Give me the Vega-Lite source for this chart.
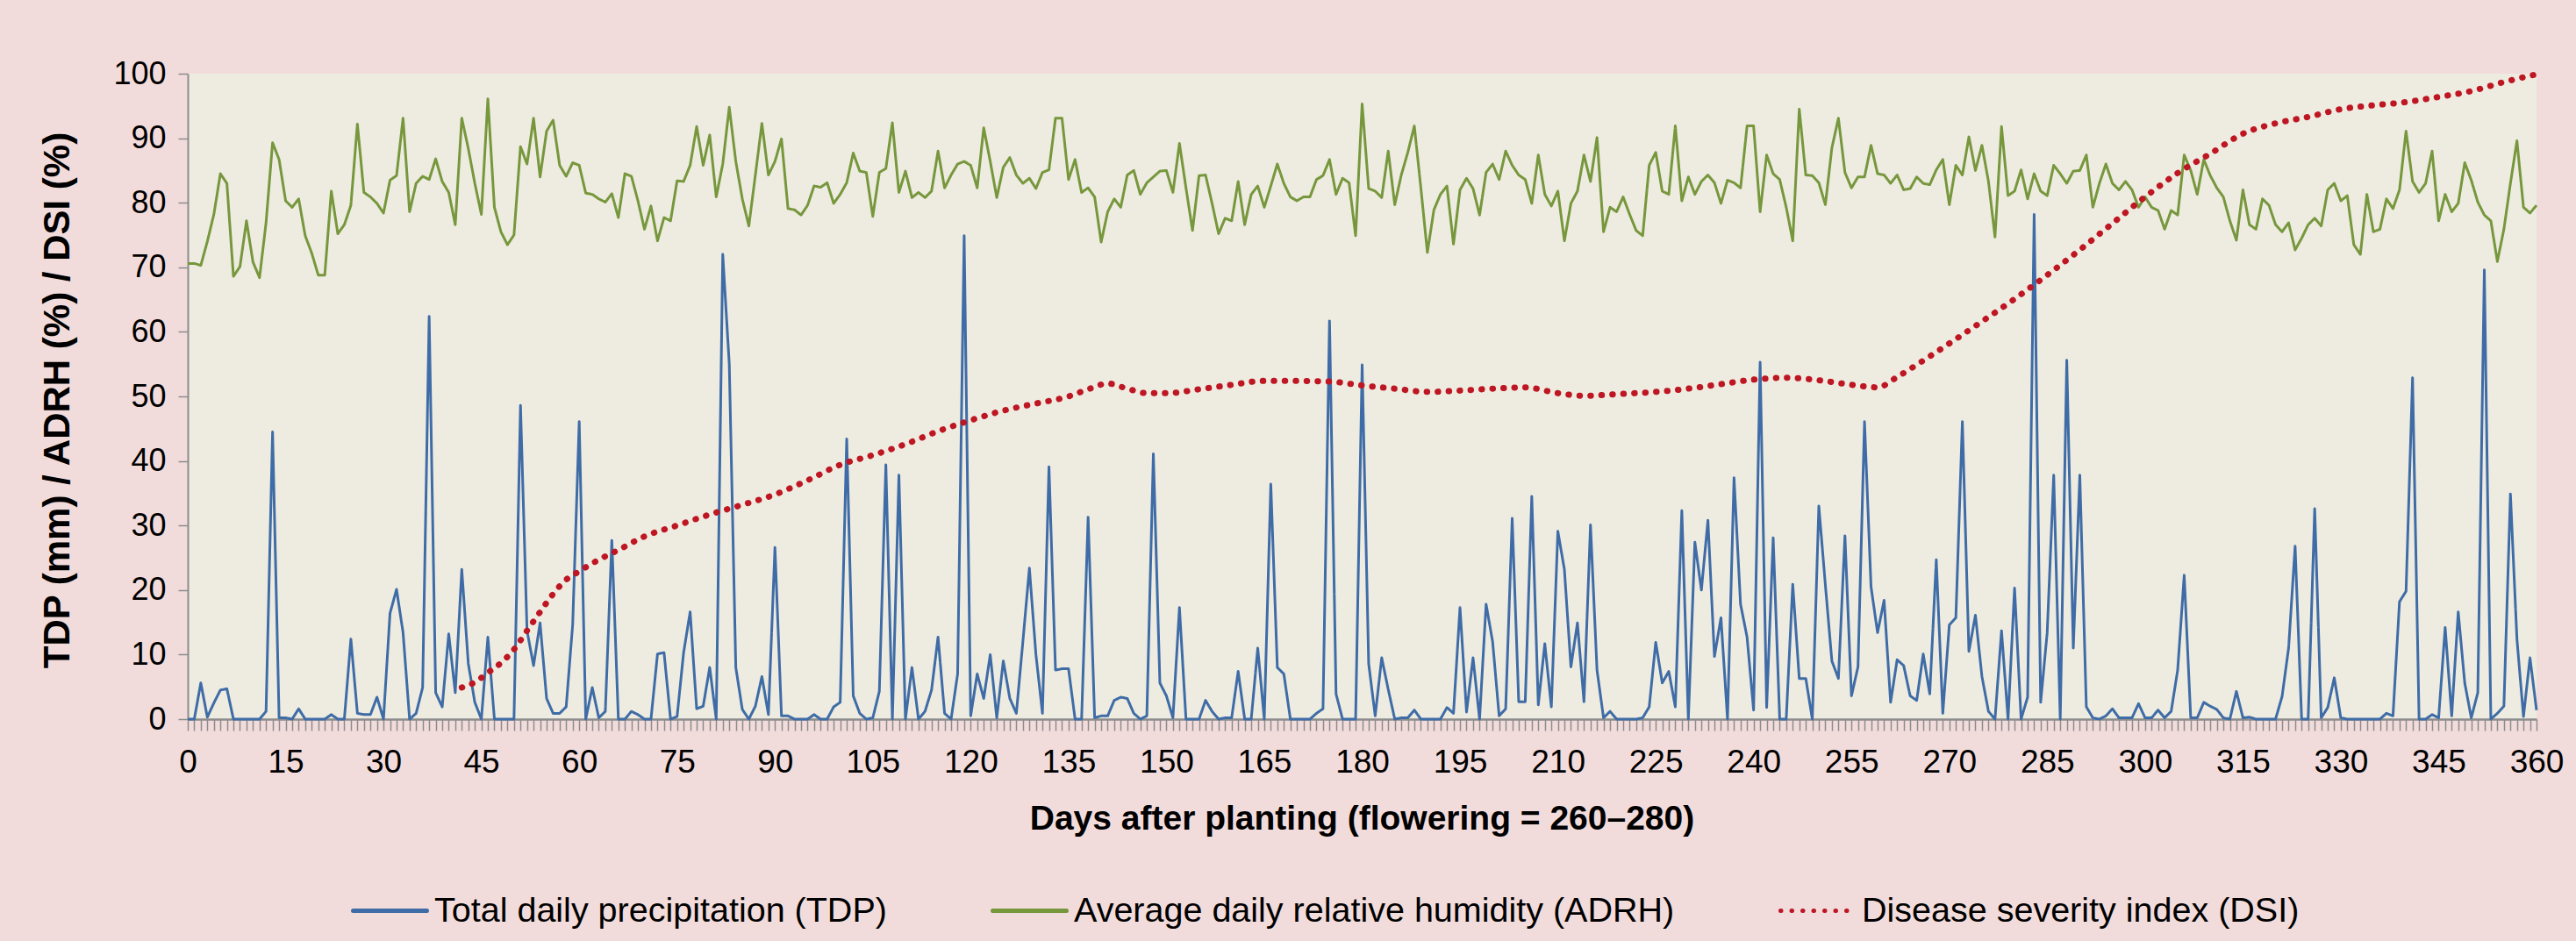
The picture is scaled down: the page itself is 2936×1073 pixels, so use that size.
{
"$schema": "https://vega.github.io/schema/vega-lite/v6.json",
"width": 2677,
"height": 736,
"autosize": {"type": "none"},
"padding": {"left": 214, "top": 84, "right": 45, "bottom": 253},
"background": "#F2DCDB",
"config": {"view": {"fill": "#EEECE1", "stroke": null}, "font": "Liberation Sans"},
"datasets": {
"daily": [
{"day":0,"TDP":0,"ADRH":70.6},{"day":1,"TDP":0,"ADRH":70.6},{"day":2,"TDP":5.6,"ADRH":70.3},{"day":3,"TDP":0.3,"ADRH":74.0},{"day":4,"TDP":2.5,"ADRH":78.2},{"day":5,"TDP":4.5,"ADRH":84.5},{"day":6,"TDP":4.7,"ADRH":83.0},{"day":7,"TDP":0,"ADRH":68.6},{"day":8,"TDP":0,"ADRH":70.1},{"day":9,"TDP":0,"ADRH":77.2},
{"day":10,"TDP":0,"ADRH":70.8},{"day":11,"TDP":0,"ADRH":68.4},{"day":12,"TDP":1.2,"ADRH":76.9},{"day":13,"TDP":44.5,"ADRH":89.3},{"day":14,"TDP":0.2,"ADRH":86.7},{"day":15,"TDP":0.2,"ADRH":80.3},{"day":16,"TDP":0,"ADRH":79.3},{"day":17,"TDP":1.6,"ADRH":80.6},{"day":18,"TDP":0,"ADRH":74.9},{"day":19,"TDP":0,"ADRH":72.2},
{"day":20,"TDP":0,"ADRH":68.8},{"day":21,"TDP":0,"ADRH":68.8},{"day":22,"TDP":0.7,"ADRH":81.8},{"day":23,"TDP":0,"ADRH":75.2},{"day":24,"TDP":0,"ADRH":76.6},{"day":25,"TDP":12.4,"ADRH":79.6},{"day":26,"TDP":0.9,"ADRH":92.2},{"day":27,"TDP":0.7,"ADRH":81.6},{"day":28,"TDP":0.7,"ADRH":80.9},{"day":29,"TDP":3.4,"ADRH":79.9},
{"day":30,"TDP":0,"ADRH":78.4},{"day":31,"TDP":16.4,"ADRH":83.5},{"day":32,"TDP":20.1,"ADRH":84.2},{"day":33,"TDP":13.4,"ADRH":93.1},{"day":34,"TDP":0,"ADRH":78.6},{"day":35,"TDP":0.9,"ADRH":83.0},{"day":36,"TDP":4.9,"ADRH":84.1},{"day":37,"TDP":62.4,"ADRH":83.6},{"day":38,"TDP":4.1,"ADRH":86.8},{"day":39,"TDP":1.9,"ADRH":83.3},
{"day":40,"TDP":13.2,"ADRH":81.6},{"day":41,"TDP":4.1,"ADRH":76.6},{"day":42,"TDP":23.2,"ADRH":93.1},{"day":43,"TDP":8.6,"ADRH":88.4},{"day":44,"TDP":2.6,"ADRH":83.0},{"day":45,"TDP":0,"ADRH":78.2},{"day":46,"TDP":12.7,"ADRH":96.1},{"day":47,"TDP":0,"ADRH":79.3},{"day":48,"TDP":0,"ADRH":75.5},{"day":49,"TDP":0,"ADRH":73.5},
{"day":50,"TDP":0,"ADRH":75.0},{"day":51,"TDP":48.6,"ADRH":88.7},{"day":52,"TDP":13.7,"ADRH":86.0},{"day":53,"TDP":8.3,"ADRH":93.1},{"day":54,"TDP":14.9,"ADRH":84.0},{"day":55,"TDP":3.2,"ADRH":91.1},{"day":56,"TDP":0.9,"ADRH":92.8},{"day":57,"TDP":0.9,"ADRH":85.8},{"day":58,"TDP":1.9,"ADRH":84.1},{"day":59,"TDP":14.7,"ADRH":86.2},
{"day":60,"TDP":46.1,"ADRH":85.8},{"day":61,"TDP":0,"ADRH":81.5},{"day":62,"TDP":4.9,"ADRH":81.3},{"day":63,"TDP":0.2,"ADRH":80.6},{"day":64,"TDP":1.2,"ADRH":80.1},{"day":65,"TDP":27.7,"ADRH":81.4},{"day":66,"TDP":0,"ADRH":77.7},{"day":67,"TDP":0,"ADRH":84.5},{"day":68,"TDP":1.2,"ADRH":84.1},{"day":69,"TDP":0.7,"ADRH":80.3},
{"day":70,"TDP":0,"ADRH":75.9},{"day":71,"TDP":0,"ADRH":79.5},{"day":72,"TDP":10.1,"ADRH":74.1},{"day":73,"TDP":10.3,"ADRH":77.7},{"day":74,"TDP":0,"ADRH":77.2},{"day":75,"TDP":0.4,"ADRH":83.4},{"day":76,"TDP":10.3,"ADRH":83.3},{"day":77,"TDP":16.6,"ADRH":85.8},{"day":78,"TDP":1.6,"ADRH":91.8},{"day":79,"TDP":2.0,"ADRH":85.8},
{"day":80,"TDP":8.0,"ADRH":90.5},{"day":81,"TDP":0,"ADRH":80.9},{"day":82,"TDP":72.0,"ADRH":86.0},{"day":83,"TDP":55.0,"ADRH":94.8},{"day":84,"TDP":8.0,"ADRH":86.4},{"day":85,"TDP":1.5,"ADRH":80.6},{"day":86,"TDP":0,"ADRH":76.4},{"day":87,"TDP":2.0,"ADRH":84.3},{"day":88,"TDP":6.6,"ADRH":92.3},{"day":89,"TDP":0.7,"ADRH":84.3},
{"day":90,"TDP":26.6,"ADRH":86.4},{"day":91,"TDP":0.5,"ADRH":89.9},{"day":92,"TDP":0.5,"ADRH":79.1},{"day":93,"TDP":0,"ADRH":78.9},{"day":94,"TDP":0,"ADRH":78.1},{"day":95,"TDP":0,"ADRH":79.6},{"day":96,"TDP":0.7,"ADRH":82.6},{"day":97,"TDP":0,"ADRH":82.4},{"day":98,"TDP":0,"ADRH":83.1},{"day":99,"TDP":1.9,"ADRH":79.9},
{"day":100,"TDP":2.6,"ADRH":81.3},{"day":101,"TDP":43.4,"ADRH":83.1},{"day":102,"TDP":3.6,"ADRH":87.7},{"day":103,"TDP":0.9,"ADRH":84.9},{"day":104,"TDP":0,"ADRH":84.7},{"day":105,"TDP":0.2,"ADRH":77.9},{"day":106,"TDP":4.3,"ADRH":84.7},{"day":107,"TDP":39.4,"ADRH":85.3},{"day":108,"TDP":0,"ADRH":92.4},{"day":109,"TDP":37.8,"ADRH":81.6},
{"day":110,"TDP":0,"ADRH":84.9},{"day":111,"TDP":8.0,"ADRH":80.8},{"day":112,"TDP":0,"ADRH":81.6},{"day":113,"TDP":1.2,"ADRH":80.8},{"day":114,"TDP":4.5,"ADRH":81.8},{"day":115,"TDP":12.7,"ADRH":88.0},{"day":116,"TDP":0.9,"ADRH":82.3},{"day":117,"TDP":0,"ADRH":84.3},{"day":118,"TDP":7.0,"ADRH":86.0},{"day":119,"TDP":74.9,"ADRH":86.4},
{"day":120,"TDP":0.5,"ADRH":85.8},{"day":121,"TDP":7.0,"ADRH":82.3},{"day":122,"TDP":3.2,"ADRH":91.6},{"day":123,"TDP":10.0,"ADRH":86.4},{"day":124,"TDP":0.2,"ADRH":80.8},{"day":125,"TDP":9.0,"ADRH":85.5},{"day":126,"TDP":3.2,"ADRH":87.0},{"day":127,"TDP":0.9,"ADRH":84.3},{"day":128,"TDP":12.0,"ADRH":83.0},{"day":129,"TDP":23.4,"ADRH":83.8},
{"day":130,"TDP":10.0,"ADRH":82.2},{"day":131,"TDP":0.9,"ADRH":84.7},{"day":132,"TDP":39.1,"ADRH":85.1},{"day":133,"TDP":7.6,"ADRH":93.1},{"day":134,"TDP":7.8,"ADRH":93.1},{"day":135,"TDP":7.8,"ADRH":83.6},{"day":136,"TDP":0,"ADRH":86.7},{"day":137,"TDP":0,"ADRH":81.6},{"day":138,"TDP":31.3,"ADRH":82.3},{"day":139,"TDP":0.2,"ADRH":80.9},
{"day":140,"TDP":0.5,"ADRH":73.9},{"day":141,"TDP":0.5,"ADRH":78.6},{"day":142,"TDP":2.9,"ADRH":80.6},{"day":143,"TDP":3.4,"ADRH":79.3},{"day":144,"TDP":3.2,"ADRH":84.3},{"day":145,"TDP":0.9,"ADRH":85.0},{"day":146,"TDP":0,"ADRH":81.3},{"day":147,"TDP":0.5,"ADRH":83.1},{"day":148,"TDP":41.1,"ADRH":84.0},{"day":149,"TDP":5.6,"ADRH":84.9},
{"day":150,"TDP":3.6,"ADRH":85.0},{"day":151,"TDP":0.2,"ADRH":81.6},{"day":152,"TDP":17.3,"ADRH":89.2},{"day":153,"TDP":0,"ADRH":82.3},{"day":154,"TDP":0,"ADRH":75.7},{"day":155,"TDP":0,"ADRH":84.2},{"day":156,"TDP":2.9,"ADRH":84.3},{"day":157,"TDP":1.2,"ADRH":79.9},{"day":158,"TDP":0,"ADRH":75.2},{"day":159,"TDP":0.2,"ADRH":77.6},
{"day":160,"TDP":0.2,"ADRH":77.2},{"day":161,"TDP":7.4,"ADRH":83.3},{"day":162,"TDP":0,"ADRH":76.6},{"day":163,"TDP":0,"ADRH":81.3},{"day":164,"TDP":11.0,"ADRH":82.6},{"day":165,"TDP":0,"ADRH":79.3},{"day":166,"TDP":36.4,"ADRH":82.6},{"day":167,"TDP":8.0,"ADRH":86.0},{"day":168,"TDP":7.0,"ADRH":83.0},{"day":169,"TDP":0,"ADRH":80.9},
{"day":170,"TDP":0,"ADRH":80.3},{"day":171,"TDP":0,"ADRH":80.9},{"day":172,"TDP":0,"ADRH":80.9},{"day":173,"TDP":0.9,"ADRH":83.6},{"day":174,"TDP":1.6,"ADRH":84.2},{"day":175,"TDP":61.7,"ADRH":86.7},{"day":176,"TDP":3.9,"ADRH":81.3},{"day":177,"TDP":0,"ADRH":83.8},{"day":178,"TDP":0,"ADRH":83.1},{"day":179,"TDP":0,"ADRH":74.9},
{"day":180,"TDP":54.9,"ADRH":95.3},{"day":181,"TDP":8.6,"ADRH":82.2},{"day":182,"TDP":0.5,"ADRH":81.8},{"day":183,"TDP":9.5,"ADRH":80.8},{"day":184,"TDP":4.6,"ADRH":88.0},{"day":185,"TDP":0,"ADRH":79.7},{"day":186,"TDP":0.2,"ADRH":84.3},{"day":187,"TDP":0.2,"ADRH":87.8},{"day":188,"TDP":1.4,"ADRH":91.9},{"day":189,"TDP":0,"ADRH":82.3},
{"day":190,"TDP":0,"ADRH":72.3},{"day":191,"TDP":0,"ADRH":78.9},{"day":192,"TDP":0,"ADRH":81.3},{"day":193,"TDP":1.8,"ADRH":82.6},{"day":194,"TDP":0.9,"ADRH":73.6},{"day":195,"TDP":17.3,"ADRH":82.0},{"day":196,"TDP":1.1,"ADRH":83.8},{"day":197,"TDP":9.5,"ADRH":82.2},{"day":198,"TDP":0,"ADRH":78.1},{"day":199,"TDP":17.8,"ADRH":84.7},
{"day":200,"TDP":12.0,"ADRH":86.0},{"day":201,"TDP":0.5,"ADRH":83.6},{"day":202,"TDP":1.6,"ADRH":88.0},{"day":203,"TDP":31.1,"ADRH":85.8},{"day":204,"TDP":2.7,"ADRH":84.3},{"day":205,"TDP":2.7,"ADRH":83.6},{"day":206,"TDP":34.5,"ADRH":79.9},{"day":207,"TDP":2.2,"ADRH":87.4},{"day":208,"TDP":11.7,"ADRH":81.3},{"day":209,"TDP":1.9,"ADRH":79.5},
{"day":210,"TDP":29.1,"ADRH":81.8},{"day":211,"TDP":23.2,"ADRH":74.1},{"day":212,"TDP":8.1,"ADRH":79.9},{"day":213,"TDP":14.9,"ADRH":81.8},{"day":214,"TDP":2.7,"ADRH":87.4},{"day":215,"TDP":30.1,"ADRH":83.3},{"day":216,"TDP":7.6,"ADRH":90.1},{"day":217,"TDP":0.2,"ADRH":75.5},{"day":218,"TDP":1.2,"ADRH":79.3},{"day":219,"TDP":0,"ADRH":78.6},
{"day":220,"TDP":0,"ADRH":80.9},{"day":221,"TDP":0,"ADRH":78.2},{"day":222,"TDP":0,"ADRH":75.7},{"day":223,"TDP":0.2,"ADRH":74.9},{"day":224,"TDP":1.9,"ADRH":85.8},{"day":225,"TDP":11.9,"ADRH":87.8},{"day":226,"TDP":5.6,"ADRH":81.8},{"day":227,"TDP":7.4,"ADRH":81.3},{"day":228,"TDP":1.9,"ADRH":91.9},{"day":229,"TDP":32.3,"ADRH":80.3},
{"day":230,"TDP":0,"ADRH":84.0},{"day":231,"TDP":27.4,"ADRH":81.3},{"day":232,"TDP":20.0,"ADRH":83.3},{"day":233,"TDP":30.8,"ADRH":84.3},{"day":234,"TDP":9.7,"ADRH":83.1},{"day":235,"TDP":15.7,"ADRH":79.9},{"day":236,"TDP":0,"ADRH":83.5},{"day":237,"TDP":37.4,"ADRH":83.1},{"day":238,"TDP":17.8,"ADRH":82.3},{"day":239,"TDP":12.7,"ADRH":91.9},
{"day":240,"TDP":1.4,"ADRH":91.9},{"day":241,"TDP":55.3,"ADRH":78.6},{"day":242,"TDP":1.8,"ADRH":87.4},{"day":243,"TDP":28.1,"ADRH":84.5},{"day":244,"TDP":0,"ADRH":83.6},{"day":245,"TDP":0,"ADRH":79.3},{"day":246,"TDP":20.9,"ADRH":74.1},{"day":247,"TDP":6.3,"ADRH":94.5},{"day":248,"TDP":6.3,"ADRH":84.3},{"day":249,"TDP":0,"ADRH":84.2},
{"day":250,"TDP":33.0,"ADRH":83.1},{"day":251,"TDP":20.8,"ADRH":79.7},{"day":252,"TDP":9.0,"ADRH":88.5},{"day":253,"TDP":6.3,"ADRH":93.1},{"day":254,"TDP":28.4,"ADRH":84.7},{"day":255,"TDP":3.6,"ADRH":82.3},{"day":256,"TDP":8.1,"ADRH":84.0},{"day":257,"TDP":46.1,"ADRH":84.0},{"day":258,"TDP":20.5,"ADRH":88.9},{"day":259,"TDP":13.4,"ADRH":84.5},
{"day":260,"TDP":18.4,"ADRH":84.3},{"day":261,"TDP":2.6,"ADRH":83.0},{"day":262,"TDP":9.2,"ADRH":84.3},{"day":263,"TDP":8.3,"ADRH":82.0},{"day":264,"TDP":3.6,"ADRH":82.2},{"day":265,"TDP":2.9,"ADRH":84.0},{"day":266,"TDP":10.1,"ADRH":83.0},{"day":267,"TDP":3.9,"ADRH":82.8},{"day":268,"TDP":24.7,"ADRH":85.1},{"day":269,"TDP":0.9,"ADRH":86.7},
{"day":270,"TDP":14.6,"ADRH":79.7},{"day":271,"TDP":15.7,"ADRH":85.8},{"day":272,"TDP":46.1,"ADRH":84.3},{"day":273,"TDP":10.5,"ADRH":90.2},{"day":274,"TDP":16.1,"ADRH":85.0},{"day":275,"TDP":6.6,"ADRH":88.9},{"day":276,"TDP":1.2,"ADRH":83.3},{"day":277,"TDP":0,"ADRH":74.7},{"day":278,"TDP":13.7,"ADRH":91.8},{"day":279,"TDP":0,"ADRH":81.1},
{"day":280,"TDP":20.3,"ADRH":81.8},{"day":281,"TDP":0,"ADRH":85.1},{"day":282,"TDP":3.4,"ADRH":80.6},{"day":283,"TDP":78.2,"ADRH":84.5},{"day":284,"TDP":2.6,"ADRH":81.8},{"day":285,"TDP":13.4,"ADRH":81.1},{"day":286,"TDP":37.8,"ADRH":85.8},{"day":287,"TDP":0,"ADRH":84.5},{"day":288,"TDP":55.6,"ADRH":83.0},{"day":289,"TDP":11.0,"ADRH":84.9},
{"day":290,"TDP":37.8,"ADRH":85.0},{"day":291,"TDP":1.9,"ADRH":87.4},{"day":292,"TDP":0.2,"ADRH":79.3},{"day":293,"TDP":0,"ADRH":83.0},{"day":294,"TDP":0.5,"ADRH":86.0},{"day":295,"TDP":1.6,"ADRH":83.0},{"day":296,"TDP":0.2,"ADRH":82.0},{"day":297,"TDP":0.2,"ADRH":83.3},{"day":298,"TDP":0.2,"ADRH":82.0},{"day":299,"TDP":2.4,"ADRH":79.3},
{"day":300,"TDP":0.2,"ADRH":80.9},{"day":301,"TDP":0.2,"ADRH":79.3},{"day":302,"TDP":1.4,"ADRH":78.8},{"day":303,"TDP":0.2,"ADRH":75.9},{"day":304,"TDP":1.2,"ADRH":78.8},{"day":305,"TDP":7.6,"ADRH":78.1},{"day":306,"TDP":22.3,"ADRH":87.4},{"day":307,"TDP":0.2,"ADRH":85.0},{"day":308,"TDP":0.2,"ADRH":81.3},{"day":309,"TDP":2.6,"ADRH":86.7},
{"day":310,"TDP":2.0,"ADRH":84.2},{"day":311,"TDP":1.5,"ADRH":82.3},{"day":312,"TDP":0.2,"ADRH":80.9},{"day":313,"TDP":0,"ADRH":77.2},{"day":314,"TDP":4.3,"ADRH":74.2},{"day":315,"TDP":0.2,"ADRH":82.0},{"day":316,"TDP":0.3,"ADRH":76.6},{"day":317,"TDP":0,"ADRH":75.9},{"day":318,"TDP":0,"ADRH":80.6},{"day":319,"TDP":0,"ADRH":79.6},
{"day":320,"TDP":0,"ADRH":76.6},{"day":321,"TDP":3.5,"ADRH":75.5},{"day":322,"TDP":11.0,"ADRH":76.9},{"day":323,"TDP":26.8,"ADRH":72.7},{"day":324,"TDP":0,"ADRH":74.5},{"day":325,"TDP":0,"ADRH":76.6},{"day":326,"TDP":32.6,"ADRH":77.6},{"day":327,"TDP":0.2,"ADRH":76.4},{"day":328,"TDP":1.8,"ADRH":82.0},{"day":329,"TDP":6.4,"ADRH":83.0},
{"day":330,"TDP":0.2,"ADRH":80.3},{"day":331,"TDP":0,"ADRH":81.1},{"day":332,"TDP":0,"ADRH":73.5},{"day":333,"TDP":0,"ADRH":72.0},{"day":334,"TDP":0,"ADRH":81.3},{"day":335,"TDP":0,"ADRH":75.5},{"day":336,"TDP":0,"ADRH":75.9},{"day":337,"TDP":0.9,"ADRH":80.6},{"day":338,"TDP":0.5,"ADRH":79.1},{"day":339,"TDP":18.2,"ADRH":82.0},
{"day":340,"TDP":19.8,"ADRH":91.1},{"day":341,"TDP":52.9,"ADRH":83.3},{"day":342,"TDP":0,"ADRH":81.6},{"day":343,"TDP":0,"ADRH":83.0},{"day":344,"TDP":0.7,"ADRH":88.0},{"day":345,"TDP":0.2,"ADRH":77.2},{"day":346,"TDP":14.2,"ADRH":81.3},{"day":347,"TDP":0.5,"ADRH":78.6},{"day":348,"TDP":16.6,"ADRH":79.9},{"day":349,"TDP":5.6,"ADRH":86.2},
{"day":350,"TDP":0.2,"ADRH":83.5},{"day":351,"TDP":4.1,"ADRH":80.1},{"day":352,"TDP":69.6,"ADRH":78.1},{"day":353,"TDP":0,"ADRH":77.2},{"day":354,"TDP":0.9,"ADRH":70.9},{"day":355,"TDP":2.0,"ADRH":75.9},{"day":356,"TDP":34.9,"ADRH":83.0},{"day":357,"TDP":12.4,"ADRH":89.6},{"day":358,"TDP":0.4,"ADRH":79.3},{"day":359,"TDP":9.5,"ADRH":78.4},
{"day":360,"TDP":1.4,"ADRH":79.6}
],
"dsi": [
{"day":42,"DSI":4.9},{"day":44,"DSI":5.7},{"day":46,"DSI":7.2},{"day":48,"DSI":8.7},{"day":50,"DSI":10.8},{"day":52,"DSI":13.7},{"day":54,"DSI":16.6},{"day":56,"DSI":19.4},{"day":58,"DSI":21.6},{"day":60,"DSI":22.9},{"day":63,"DSI":24.7},{"day":66,"DSI":26.2},{"day":70,"DSI":28.3},{"day":75,"DSI":30.0},{"day":80,"DSI":31.7},{"day":85,"DSI":33.2},{"day":90,"DSI":34.8},{"day":95,"DSI":37.0},{"day":100,"DSI":39.4},{"day":105,"DSI":40.9},{"day":110,"DSI":42.6},{"day":115,"DSI":44.6},{"day":120,"DSI":46.3},{"day":125,"DSI":47.8},{"day":130,"DSI":48.9},{"day":135,"DSI":50.0},{"day":138,"DSI":51.1},{"day":141,"DSI":52.0},{"day":144,"DSI":51.2},{"day":147,"DSI":50.5},{"day":150,"DSI":50.5},{"day":155,"DSI":51.1},{"day":160,"DSI":51.8},{"day":165,"DSI":52.4},{"day":170,"DSI":52.4},{"day":175,"DSI":52.3},{"day":180,"DSI":51.7},{"day":185,"DSI":51.2},{"day":190,"DSI":50.7},{"day":195,"DSI":50.9},{"day":200,"DSI":51.2},{"day":205,"DSI":51.4},{"day":210,"DSI":50.5},{"day":214,"DSI":50.1},{"day":220,"DSI":50.4},{"day":225,"DSI":50.7},{"day":230,"DSI":51.2},{"day":235,"DSI":51.9},{"day":240,"DSI":52.6},{"day":245,"DSI":52.9},{"day":250,"DSI":52.5},{"day":255,"DSI":51.8},{"day":259,"DSI":51.4},{"day":262,"DSI":53.0},{"day":265,"DSI":54.9},{"day":270,"DSI":58.2},{"day":275,"DSI":61.6},{"day":280,"DSI":65.1},{"day":285,"DSI":68.8},{"day":290,"DSI":72.7},{"day":295,"DSI":76.8},{"day":300,"DSI":80.9},{"day":305,"DSI":84.6},{"day":310,"DSI":87.6},{"day":315,"DSI":90.7},{"day":320,"DSI":92.3},{"day":325,"DSI":93.3},{"day":330,"DSI":94.5},{"day":335,"DSI":95.1},{"day":340,"DSI":95.6},{"day":345,"DSI":96.4},{"day":350,"DSI":97.3},{"day":355,"DSI":98.7},{"day":360,"DSI":99.9}
]
},
"encoding": {
"x": {"field": "day", "type": "quantitative", "scale": {"domain": [0, 360], "nice": false},
 "axis": {"title": "Days after planting (flowering = 260–280)", "titleFontSize": 39, "titleFontWeight": "bold", "titleColor": "black", "titleX": 1338, "titleY": 113, "titleAlign": "center", "titleBaseline": "middle",
  "tickCount": 360, "labelExpr": "datum.value % 15 === 0 ? datum.label : ''", "labelOverlap": false, "labelFlush": false, "labelBound": false,
  "labelFontSize": 37, "labelColor": "black", "labelPadding": 18, "tickSize": 13, "tickWidth": 1.5, "tickColor": "#8C8C8C", "domainColor": "#8C8C8C", "domainWidth": 2.5, "grid": false}},
"y": {"field": "value", "type": "quantitative", "scale": {"domain": [0, 100], "nice": false},
 "axis": {"title": "TDP (mm) / ADRH (%) / DSI (%)", "titleFontSize": 42, "titleFontWeight": "bold", "titleColor": "black", "titleX": -149, "titleY": 372, "titleAngle": 270, "titleAlign": "center", "titleBaseline": "middle",
  "values": [0, 10, 20, 30, 40, 50, 60, 70, 80, 90, 100], "labelFontSize": 36, "labelColor": "black", "labelPadding": 14, "tickSize": 11, "tickWidth": 1.5, "tickColor": "#8C8C8C", "domainColor": "#8C8C8C", "domainWidth": 2, "grid": false}},
"color": {"field": "series", "type": "nominal", "scale": {"domain": ["TDP", "ADRH", "DSI"], "range": ["#3F6CA6", "#77973D", "#BE1622"]},
 "legend": {"orient": "none", "legendX": 186, "legendY": 910, "direction": "horizontal", "title": null, "symbolType": "stroke", "symbolSize": 7056, "symbolStrokeWidth": 5, "labelFontSize": 39.5, "labelColor": "black", "labelLimit": 0, "labelOffset": 6, "columnPadding": 110,
  "labelExpr": "datum.value === 'TDP' ? 'Total daily precipitation (TDP)' : datum.value === 'ADRH' ? 'Average daily relative humidity (ADRH)' : 'Disease severity index (DSI)'",
  "encode": {"symbols": {"update": {"strokeCap": {"value": "round"}}}}}},
"strokeDash": {"field": "series", "type": "nominal", "scale": {"domain": ["TDP", "ADRH", "DSI"], "range": [[1, 0], [1, 0], [0.5, 12]]},
 "legend": {"orient": "none", "legendX": 186, "legendY": 910, "direction": "horizontal", "title": null, "symbolType": "stroke", "symbolSize": 7056, "symbolStrokeWidth": 5, "labelFontSize": 39.5, "labelColor": "black", "labelLimit": 0, "labelOffset": 6, "columnPadding": 110,
  "labelExpr": "datum.value === 'TDP' ? 'Total daily precipitation (TDP)' : datum.value === 'ADRH' ? 'Average daily relative humidity (ADRH)' : 'Disease severity index (DSI)'",
  "encode": {"symbols": {"update": {"strokeCap": {"value": "round"}}}}}}
},
"layer": [
{"data": {"name": "daily"}, "transform": [{"fold": ["TDP", "ADRH"], "as": ["series", "value"]}],
 "mark": {"type": "line", "strokeWidth": 3, "strokeJoin": "round"}},
{"data": {"name": "dsi"}, "transform": [{"fold": ["DSI"], "as": ["series", "value"]}],
 "mark": {"type": "line", "strokeWidth": 7, "strokeCap": "round", "interpolate": "monotone"}}
]
}
